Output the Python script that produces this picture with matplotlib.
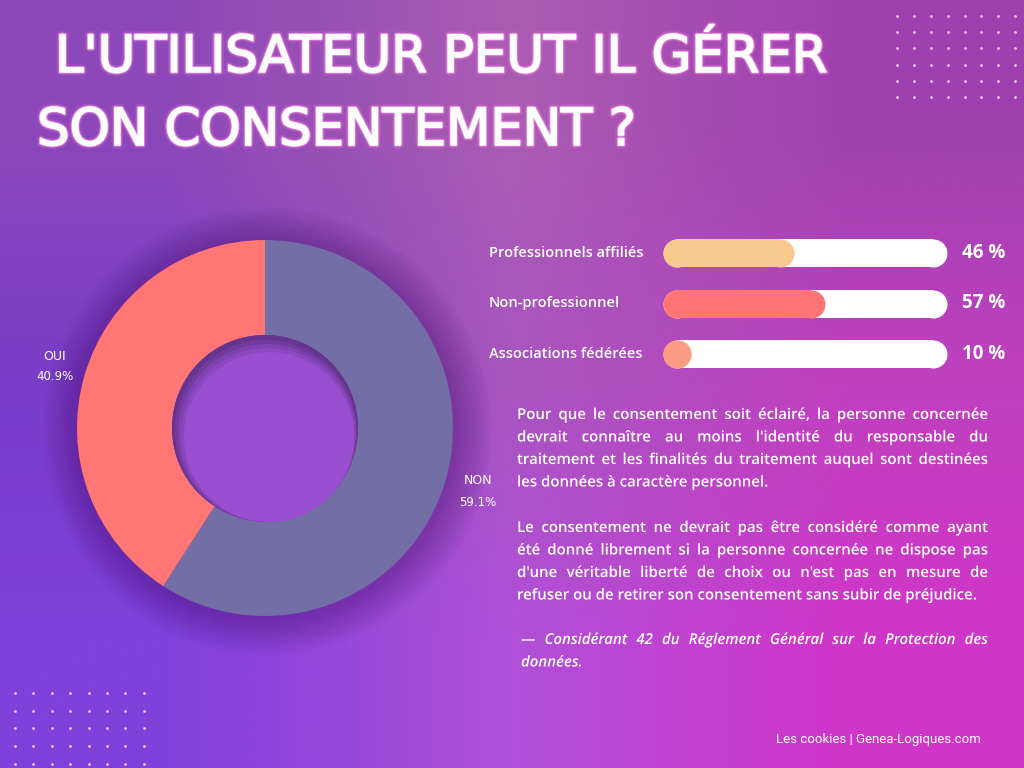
import numpy as np
import matplotlib
matplotlib.use("Agg")
import matplotlib.pyplot as plt
import matplotlib.patheffects as pe
from matplotlib.colors import to_rgb
from matplotlib.patches import Circle, PathPatch
from matplotlib.textpath import TextPath, TextToPath
from matplotlib.font_manager import FontProperties

# ---- data -------------------------------------------------------------
pie_labels = ["NON", "OUI"]
pie_values = [59.1, 40.9]
pie_colors = ["#736ea6", "#ff7675"]

bar_labels = ["Professionnels affiliés", "Non-professionnel", "Associations fédérées"]
bar_values = [46, 57, 10]
bar_colors = ["#f8c98f", "#ff7474", "#fa9c84"]

title_lines = ["L'UTILISATEUR PEUT IL GÉRER", "SON CONSENTEMENT ?"]
para1 = ["Pour que le consentement soit éclairé, la personne concernée",
         "devrait connaître au moins l'identité du responsable du",
         "traitement et les finalités du traitement auquel sont destinées",
         "les données à caractère personnel."]
para2 = ["Le consentement ne devrait pas être considéré comme ayant",
         "été donné librement si la personne concernée ne dispose pas",
         "d'une véritable liberté de choix ou n'est pas en mesure de",
         "refuser ou de retirer son consentement sans subir de préjudice."]
quote = ["— Considérant 42 du Réglement Général sur la Protection des",
         "données."]
footer = "Les cookies | Genea-Logiques.com"

W, H = 1024, 768
fig = plt.figure(figsize=(W / 100, H / 100), dpi=100)
ax = fig.add_axes([0, 0, 1, 1])
renderer = fig.canvas.get_renderer()

# background gradient (3x3 colour grid, bilinear)
grid = [["#8c48b8", "#aa5cb2", "#a040b0"],
        ["#7a3cc8", "#a855c0", "#c040c0"],
        ["#8040dc", "#b050d8", "#d035c8"]]
img = np.array([[to_rgb(c) for c in row] for row in grid])
ax.imshow(img, extent=(0, W, 0, H), interpolation="bilinear", aspect="auto", zorder=0)

# dot patterns
for xs, ys in [(np.arange(897, 1020, 16.9), np.arange(16, 100, 16.2)),
               (np.arange(15, 150, 18.4), np.arange(693, 768, 17.7))]:
    gx, gy = np.meshgrid(xs, ys)
    ax.scatter(gx.ravel(), H - gy.ravel(), s=4, color="#f3c8ec", lw=0, zorder=1)

# donut
cx, cy, R, r = 265, H - 428, 188, 93
for k in range(12):
    ax.add_patch(Circle((cx + 2, cy - 3), R + 36 - 3 * k, color="#3c0d5e", alpha=0.03, lw=0, zorder=1))
ax.pie(pie_values, colors=pie_colors, startangle=90, counterclock=False,
       center=(cx, cy), radius=R, wedgeprops=dict(width=R - r, lw=0), frame=True)
ax.add_patch(Circle((cx, cy), r, color="#66348e", lw=0, zorder=3))
for k, col in enumerate(["#733a9e", "#8042b0", "#8c48c0"]):
    ax.add_patch(Circle((cx + 1 + k, cy - 3 - 2 * k), r - 2 - 2 * k, color=col, lw=0, zorder=3))
ax.add_patch(Circle((cx + 4, cy - 9), r - 8, color="#9a4fd0", lw=0, zorder=3))

lab_font = dict(color="white", fontsize=9, family="DejaVu Sans", ha="center", va="center", zorder=5)
ax.text(55, H - 356, pie_labels[1], **lab_font)
ax.text(55, H - 377, "%.1f%%" % pie_values[1], **dict(lab_font, fontsize=8.5))
ax.text(478, H - 481, pie_labels[0], **lab_font)
ax.text(478, H - 502, "%.1f%%" % pie_values[0], **dict(lab_font, fontsize=8.5))

ax.set_xlim(0, W)
ax.set_ylim(0, H)
ax.set_aspect("auto")
ax.axis("off")

# title, font size fitted to the reference line width
glow = [pe.withStroke(linewidth=5, foreground="#ff70e6", alpha=0.18),
        pe.withStroke(linewidth=2.6, foreground="#ff9af0", alpha=0.55),
        pe.withStroke(linewidth=1.2, foreground="white"), pe.Normal()]
tkw = dict(color="white", family="DejaVu Sans", weight="normal", va="baseline",
           ha="left", path_effects=glow, zorder=6)
probe = ax.text(0, 0, title_lines[0], fontsize=30, **tkw)
tsize = 30 * 773 / probe.get_window_extent(renderer).width
probe.remove()
for (x, y), line in zip([(55, 72), (37, 145)], title_lines):
    ax.text(x, H - y, line, fontsize=tsize, **tkw)

# bars
bx0, bx1 = 663, 947
ax_b = fig.add_axes([bx0 / W, 1 - 379.25 / H, (bx1 - bx0) / W, 151.5 / H])
ax_b.set_xlim(0, 100)
ax_b.set_ylim(len(bar_values) - 0.5, -0.5)
ax_b.axis("off")
lw = 28 * 72 / 100
cap = 14 / (bx1 - bx0) * 100
for i, (lab, v, c) in enumerate(zip(bar_labels, bar_values, bar_colors)):
    ax_b.plot([cap, 100 - cap], [i, i], color="white", lw=lw, solid_capstyle="butt",
              marker="o", ms=lw, mew=0)
    ax_b.plot([cap, max(cap, v - cap)], [i, i], color=c, lw=lw, solid_capstyle="butt",
              marker="o", ms=lw, mew=0)
    ax_b.annotate(lab, (489, i), xycoords=("figure pixels", "data"), color="white",
                  fontsize=10.5, family="Open Sans", weight="semibold", va="center", ha="left")
    ax_b.annotate("%d %%" % v, (962, i), xycoords=("figure pixels", "data"), color="white",
                  fontsize=13.5, family="Open Sans", weight="bold", va="center", ha="left")

# justified paragraphs (drawn as text paths, 1 data unit = 1 px)
t2p = TextToPath()
px = 10.8 * 100 / 72


def word(x, y, s, fp):
    ax.add_patch(PathPatch(TextPath((x, y), s, size=px, prop=fp), color="white", lw=0, zorder=6))


def justify(lines, y0, fp, x0=517, x1=988, dy=22.5):
    fp = fp.copy()
    fp.set_size(px)
    for j, line in enumerate(lines):
        y = H - (y0 + j * dy)
        words = line.split()
        if j == len(lines) - 1:
            word(x0, y, line, fp)
            continue
        widths = [t2p.get_text_width_height_descent(w_, fp, ismath=False)[0] for w_ in words]
        gap = (x1 - x0 - sum(widths)) / (len(words) - 1)
        x = x0
        for w_, wd in zip(words, widths):
            word(x, y, w_, fp)
            x += wd + gap


fp_body = FontProperties(family="Open Sans", weight="semibold")
fp_ital = FontProperties(family="Open Sans", weight="semibold", style="italic")
justify(para1, 419, fp_body)
justify(para2, 532, fp_body)
justify(quote, 644, fp_ital, x0=521)

ax.text(981, H - 743, footer, color="white", fontsize=9.5,
        family=["Liberation Sans Narrow", "Roboto"], ha="right", va="baseline", zorder=6)

fig.savefig("out.png", dpi=100)
